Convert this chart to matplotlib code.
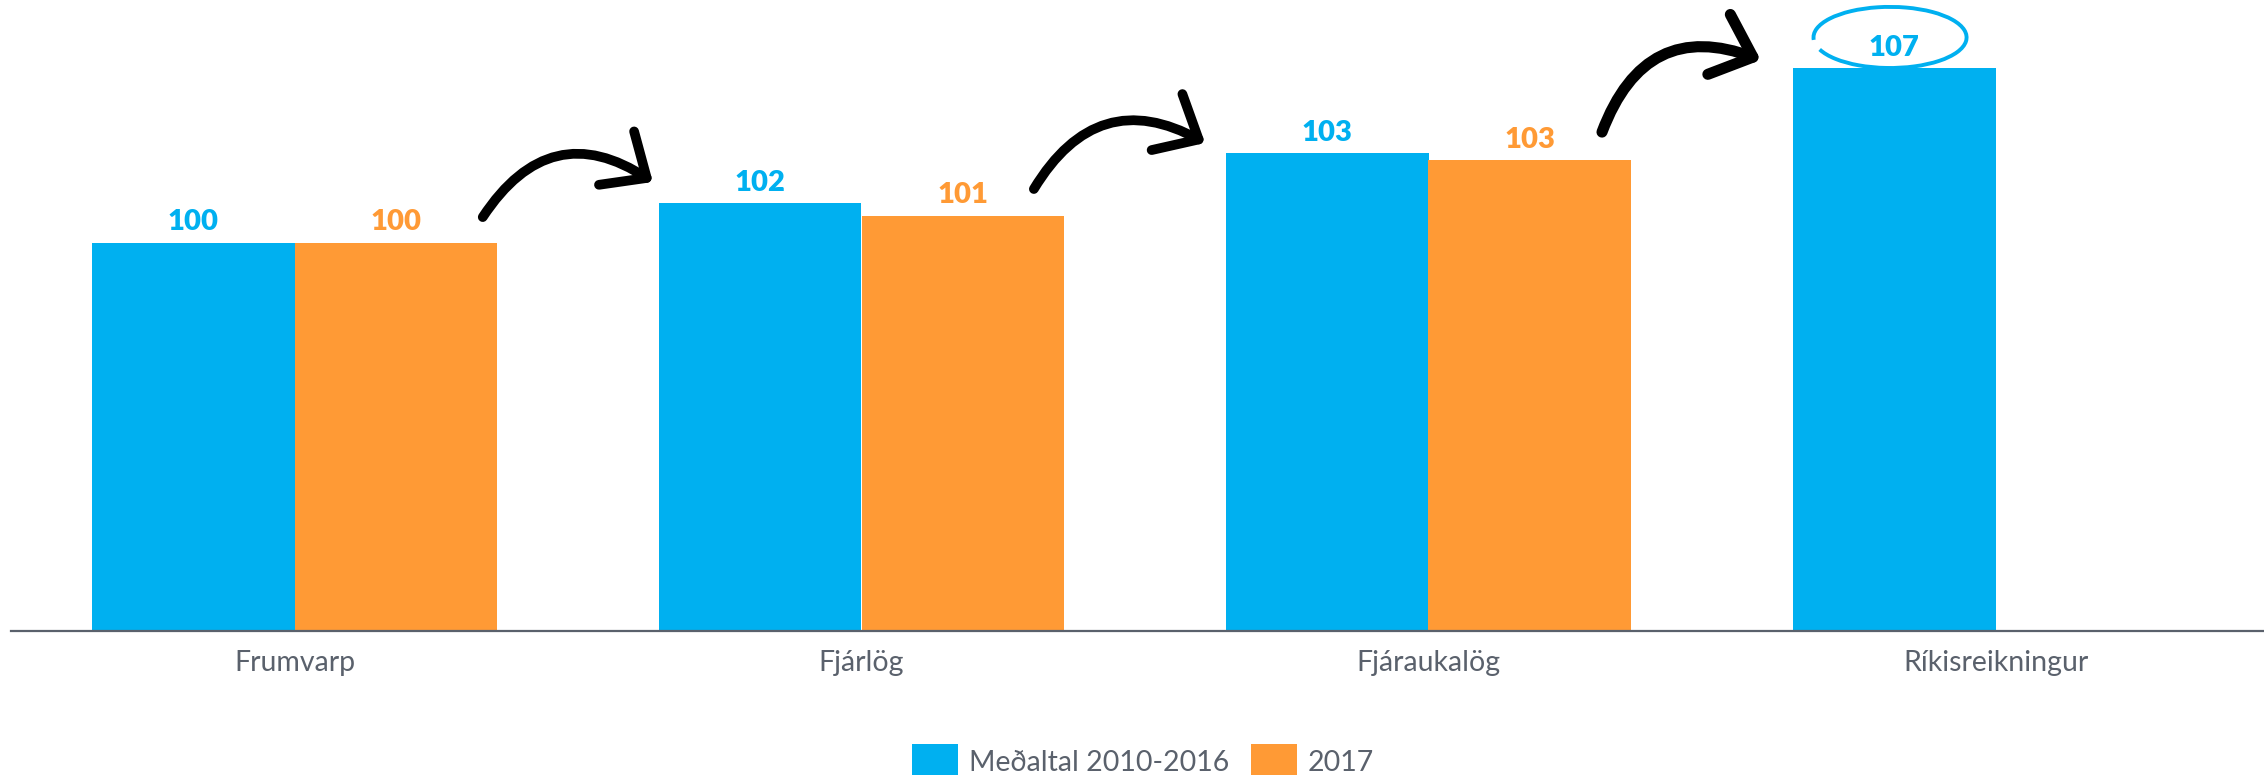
import numpy as np
import matplotlib
matplotlib.use('Agg')
import matplotlib.pyplot as plt
from matplotlib.patches import Arc

plt.rcParams['font.family'] = ['Lato', 'DejaVu Sans']

# %% data
categories = ['Frumvarp', 'Fjárlög', 'Fjáraukalög', 'Ríkisreikningur']
avg_2010_2016 = [100.0, 101.52, 103.45, 106.72]
y2017 = [100.0, 101.05, 103.17, np.nan]
series_names = ['Meðaltal 2010-2016', '2017']

blue = '#00B0F0'
orange = '#FF9A35'
grey = '#5a616c'

# %% plot
fig = plt.figure(figsize=(22.64, 7.75), dpi=100)
ax = fig.add_axes([11 / 2264, (775 - 631) / 775, 2268 / 2264, 631 / 775])

x = np.arange(len(categories))
w = 0.358
b1 = ax.bar(x - w / 2, avg_2010_2016, w, color=blue, label=series_names[0], linewidth=0)
b2 = ax.bar(x + w / 2, y2017, w, color=orange, label=series_names[1], linewidth=0)

for bars, vals, c in [(b1, avg_2010_2016, blue), (b2, y2017, orange)]:
    for r, v in zip(bars, vals):
        if np.isnan(v):
            continue
        ax.annotate(f'{v:.0f}', (r.get_x() + r.get_width() / 2, v),
                    xytext=(0, 9), textcoords='offset points',
                    ha='center', va='baseline', color=c,
                    fontsize=21, fontweight='heavy')

ax.set_xlim(-0.5, len(categories) - 0.5)
ax.set_ylim(85.07, 109.34)
ax.set_xticks(x)
ax.set_xticklabels(categories, fontsize=20.5, color=grey)
ax.tick_params(axis='x', length=0, pad=14)
ax.set_yticks([])
for s in ['top', 'left', 'right']:
    ax.spines[s].set_visible(False)
ax.spines['bottom'].set_color(grey)
ax.spines['bottom'].set_linewidth(1.6)

# hand-drawn style arrows between the stages
arrows = [((0.332, 100.99), (0.632, 102.34), -0.5, 7),
          ((1.304, 102.07), (1.606, 103.84), -0.48, 7),
          ((2.306, 104.26), (2.586, 107.03), -0.5, 8)]
for tail, tip, rad, lw in arrows:
    ax.annotate('', xy=tip, xytext=tail,
                arrowprops=dict(arrowstyle='->,head_length=2.6,head_width=2.3',
                                connectionstyle=f'arc3,rad={rad}',
                                lw=lw, color='black', capstyle='round',
                                joinstyle='round', shrinkA=0, shrinkB=0),
                annotation_clip=False)

# loop around the last value
ax.add_patch(Arc((2.814, 107.9), 0.27, 2.35, theta1=255, theta2=215,
                 color=blue, lw=2.8, clip_on=False))

fig.legend(loc='center', bbox_to_anchor=(0.505, 0.017), ncol=2, frameon=False,
           fontsize=20.5, handlelength=1.6, handleheight=1.6, handletextpad=0.4,
           columnspacing=0.75, labelcolor=grey)

fig.savefig('out.png', dpi=100)
